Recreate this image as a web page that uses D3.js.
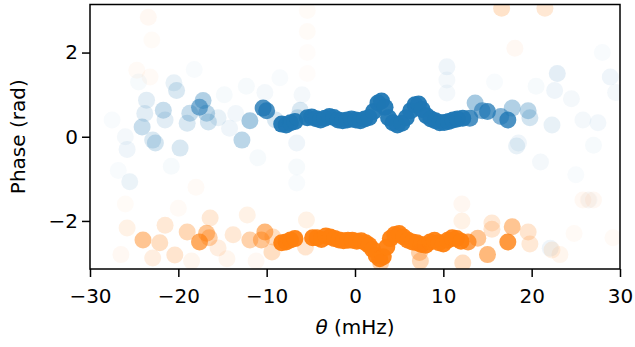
<!DOCTYPE html>
<html>
<head>
<meta charset="utf-8">
<script src="https://cdn.jsdelivr.net/npm/d3@7"></script>
<style>
  body { margin: 0; background: #fff; }
  svg { display: block; font-family: "DejaVu Sans", sans-serif; }
</style>
</head>
<body>
<svg id="chart" width="635" height="347"></svg>
<script>
// theta (mHz), phase (rad), alpha
const bluePoints = [
  // dense core
  [-8.3, 0.30, 0.95], [-7.8, 0.28, 0.95], [-7.3, 0.33, 0.95], [-6.8, 0.36, 0.95],
  [-5.4, 0.45, 0.95], [-4.9, 0.47, 0.95], [-4.4, 0.43, 0.95], [-3.9, 0.40, 0.95],
  [-3.4, 0.44, 0.95], [-2.9, 0.48, 0.95], [-2.4, 0.46, 0.95], [-1.9, 0.40, 0.95],
  [-1.4, 0.38, 0.95], [-0.9, 0.40, 0.95], [-0.4, 0.42, 0.95], [0.1, 0.40, 0.95],
  [0.6, 0.38, 0.95], [1.1, 0.42, 0.95], [1.6, 0.46, 0.95], [2.1, 0.60, 0.95],
  [2.6, 0.80, 0.95], [3.0, 0.85, 0.95], [3.4, 0.70, 0.95], [3.8, 0.45, 0.95],
  [4.3, 0.33, 0.95], [4.8, 0.28, 0.95], [5.3, 0.32, 0.95], [5.8, 0.45, 0.95],
  [6.3, 0.62, 0.95], [6.8, 0.76, 0.95], [7.2, 0.78, 0.95], [7.6, 0.65, 0.95],
  [8.1, 0.50, 0.95], [8.6, 0.42, 0.95], [9.1, 0.38, 0.95], [9.6, 0.33, 0.95],
  [10.1, 0.34, 0.95], [10.6, 0.36, 0.95], [11.1, 0.40, 0.95], [11.6, 0.42, 0.95],
  [12.2, 0.44, 0.95],
  // shoulders
  [-10.4, 0.68, 0.8], [-10.0, 0.62, 0.8], [-11.9, 0.38, 0.4], [-12.8, -0.08, 0.3],
  [-9.0, 0.40, 0.17], [-6.2, 0.63, 0.17], [-6.5, 0.45, 0.2],
  [13.0, 0.44, 0.8], [13.6, 0.80, 0.4], [14.4, 0.62, 0.6], [15.0, 0.60, 0.75],
  [16.5, 0.48, 0.55], [17.3, 0.40, 0.8], [17.8, 0.68, 0.35], [19.6, 0.62, 0.3],
  [19.8, 0.45, 0.2], [22.3, 0.28, 0.1], [18.3, -0.22, 0.1], [18.5, -0.15, 0.07],
  // faint left
  [-17.6, 0.70, 0.55], [-17.2, 0.86, 0.35], [-16.8, 0.56, 0.3], [-16.6, 0.35, 0.2],
  [-18.7, 0.56, 0.25], [-19.0, 0.32, 0.17], [-20.2, 1.10, 0.17], [-20.5, 1.28, 0.1],
  [-19.8, -0.27, 0.17], [-21.7, 0.63, 0.25], [-21.5, 0.40, 0.13], [-22.6, -0.15, 0.2],
  [-24.1, 0.23, 0.25], [-23.6, 0.87, 0.13], [-23.8, 0.55, 0.13], [-22.9, -0.08, 0.17],
  [-25.8, -0.30, 0.07], [-25.5, -1.07, 0.09], [-26.0, 0.00, 0.05], [-15.5, 0.45, 0.1],
  [-14.2, 0.20, 0.07], [-13.5, 0.55, 0.06], [-12.3, 1.20, 0.04], [-10.2, 1.05, 0.05],
  [-6.6, -0.15, 0.07], [-6.6, -0.72, 0.04], [-6.6, -1.10, 0.03], [-6.0, 1.00, 0.05],
  [-24.5, 1.30, 0.04], [-27.5, 0.40, 0.03], [-20.8, -0.70, 0.04], [-14.8, 1.00, 0.04],
  [-11.0, -0.50, 0.04], [-8.5, 1.40, 0.03], [-18.2, 1.60, 0.03], [-26.8, -0.80, 0.03],
  // faint right
  [10.4, 1.66, 0.07], [10.4, 1.35, 0.05], [10.4, 1.04, 0.05], [22.9, 1.50, 0.12],
  [22.6, 1.10, 0.07], [24.5, 0.90, 0.05], [25.8, 0.40, 0.05], [27.0, -0.20, 0.04],
  [28.9, 1.42, 0.07], [29.5, 1.05, 0.05], [26.5, -1.50, 0.03], [21.0, -0.60, 0.05],
  [27.5, 0.33, 0.06], [22.1, -2.65, 0.07], [20.5, 1.20, 0.04], [25.0, -0.90, 0.03],
  [28.0, 2.00, 0.03], [15.8, 1.30, 0.03]
];

const orangePoints = [
  // dense core
  [-8.3, -2.52, 0.95], [-7.8, -2.50, 0.95], [-7.3, -2.45, 0.95], [-6.8, -2.42, 0.95],
  [-4.8, -2.40, 0.95], [-4.3, -2.40, 0.95], [-3.8, -2.44, 0.95], [-3.3, -2.36, 0.95],
  [-2.8, -2.38, 0.95], [-2.3, -2.42, 0.95], [-1.8, -2.45, 0.95], [-1.3, -2.47, 0.95],
  [-0.8, -2.46, 0.95], [-0.3, -2.46, 0.95], [0.2, -2.48, 0.95], [0.7, -2.47, 0.95],
  [1.2, -2.52, 0.95], [1.6, -2.58, 0.95], [2.0, -2.68, 0.95], [2.4, -2.82, 0.95],
  [2.8, -2.90, 0.95], [3.2, -2.85, 0.95], [3.6, -2.62, 0.95], [4.0, -2.42, 0.95],
  [4.5, -2.32, 0.95], [5.0, -2.30, 0.95], [5.5, -2.38, 0.95], [6.0, -2.46, 0.95],
  [6.5, -2.50, 0.95], [7.0, -2.52, 0.95], [7.5, -2.56, 0.95], [8.0, -2.58, 0.95],
  [8.5, -2.50, 0.95], [9.0, -2.46, 0.95], [9.5, -2.52, 0.95], [10.0, -2.55, 0.95],
  [10.5, -2.46, 0.95], [11.0, -2.40, 0.95], [11.5, -2.42, 0.95], [12.0, -2.48, 0.95],
  // shoulders
  [12.8, -2.50, 0.75], [13.9, -2.41, 0.45], [15.0, -2.80, 0.55], [15.5, -2.20, 0.2],
  [17.3, -2.50, 0.8], [17.8, -2.14, 0.45], [19.6, -2.26, 0.2], [19.8, -2.55, 0.17],
  [22.3, -2.69, 0.1], [23.2, -2.80, 0.07], [7.3, -2.75, 0.35], [7.4, -2.95, 0.3],
  [12.2, -3.00, 0.25], [2.9, -3.00, 0.35], [12.1, -1.60, 0.06], [12.1, -2.00, 0.1],
  [15.5, -2.05, 0.17],
  [-10.2, -2.26, 0.55], [-10.6, -2.45, 0.45], [-11.9, -2.45, 0.35], [-9.4, -2.74, 0.25],
  [-9.3, -2.38, 0.25], [-17.6, -2.50, 0.65], [-16.8, -2.29, 0.45], [-16.5, -2.40, 0.35],
  [-19.0, -2.26, 0.3], [-24.0, -2.45, 0.45], [-22.1, -2.52, 0.25], [-21.5, -2.10, 0.17],
  [-20.4, -2.81, 0.2], [-22.9, -2.88, 0.13], [-16.4, -1.93, 0.17], [-13.8, -2.33, 0.17],
  [-15.5, -2.64, 0.13], [-12.2, -1.86, 0.1], [-25.8, -2.17, 0.1], [-5.5, -1.98, 0.1],
  [-5.6, -2.62, 0.2], [-14.5, -2.90, 0.07], [-18.5, -2.95, 0.07], [-26.5, -2.80, 0.05],
  [-18.0, -1.20, 0.04], [-20.0, -1.70, 0.04], [-26.0, -1.60, 0.03], [-11.2, -2.95, 0.05],
  // wrapped / faint
  [16.6, 3.05, 0.22], [21.5, 3.05, 0.18], [18.1, 2.10, 0.05], [-23.4, 2.84, 0.05],
  [-24.7, 1.58, 0.04], [-23.2, 1.42, 0.04], [-23.0, 2.30, 0.03], [-5.4, 3.00, 0.03],
  [-5.4, 2.50, 0.03], [-5.4, 2.00, 0.02], [-5.4, 1.50, 0.02], [25.8, -1.50, 0.05],
  [27.0, -1.50, 0.05], [29.2, -2.40, 0.04], [26.4, -1.50, 0.04], [24.8, -2.30, 0.04]
];

const xTicks = [-30, -20, -10, 0, 10, 20, 30];
const yTicks = [-2, 0, 2];

const margin = {top: 4.5, right: 15, bottom: 78, left: 90};
const width = 635, height = 347;

const svg = d3.select("#chart");

const x = d3.scaleLinear().domain([-30, 30]).range([margin.left, width - margin.right]);
const y = d3.scaleLinear().domain([-Math.PI, Math.PI]).range([height - margin.bottom, margin.top]);

svg.append("clipPath").attr("id", "clip")
  .append("rect")
  .attr("x", x(-30)).attr("y", y(Math.PI))
  .attr("width", x(30) - x(-30)).attr("height", y(-Math.PI) - y(Math.PI));

const plot = svg.append("g").attr("clip-path", "url(#clip)");

const series = [
  {pts: bluePoints, color: "#1f77b4"},
  {pts: orangePoints, color: "#ff7f0e"}
];

series.forEach(s => {
  plot.append("g")
    .selectAll("circle")
    .data(s.pts)
    .join("circle")
    .attr("cx", d => x(d[0]))
    .attr("cy", d => y(d[1]))
    .attr("r", 8.5)
    .attr("fill", s.color)
    .attr("fill-opacity", d => d[2]);
});

const fontSize = 20;

const xAxis = svg.append("g")
  .attr("transform", `translate(0,${y(-Math.PI)})`)
  .call(d3.axisBottom(x).tickValues(xTicks).tickFormat(d3.format("d"))
    .tickSize(8).tickPadding(12).tickSizeOuter(0));
const yAxis = svg.append("g")
  .attr("transform", `translate(${x(-30)},0)`)
  .call(d3.axisLeft(y).tickValues(yTicks).tickFormat(d3.format("d"))
    .tickSize(8).tickPadding(4).tickSizeOuter(0));

[xAxis, yAxis].forEach(a => {
  a.select(".domain").remove();
  a.selectAll(".tick line").attr("stroke", "#000").attr("stroke-width", 1.5);
  a.selectAll(".tick text").attr("fill", "#000")
    .style("font-size", fontSize + "px").style("font-family", "DejaVu Sans");
});

// frame
svg.append("rect")
  .attr("x", x(-30)).attr("y", y(Math.PI))
  .attr("width", x(30) - x(-30)).attr("height", y(-Math.PI) - y(Math.PI))
  .attr("fill", "none").attr("stroke", "#000").attr("stroke-width", 1.5);

const xl = svg.append("text")
  .attr("x", (x(-30) + x(30)) / 2).attr("y", 334)
  .attr("text-anchor", "middle")
  .style("font-size", fontSize + "px");
xl.append("tspan").attr("font-style", "italic").text("θ");
xl.append("tspan").text(" (mHz)");

svg.append("text")
  .attr("transform", `translate(25,${(y(Math.PI) + y(-Math.PI)) / 2}) rotate(-90)`)
  .attr("text-anchor", "middle")
  .style("font-size", fontSize + "px")
  .text("Phase (rad)");
</script>
</body>
</html>
